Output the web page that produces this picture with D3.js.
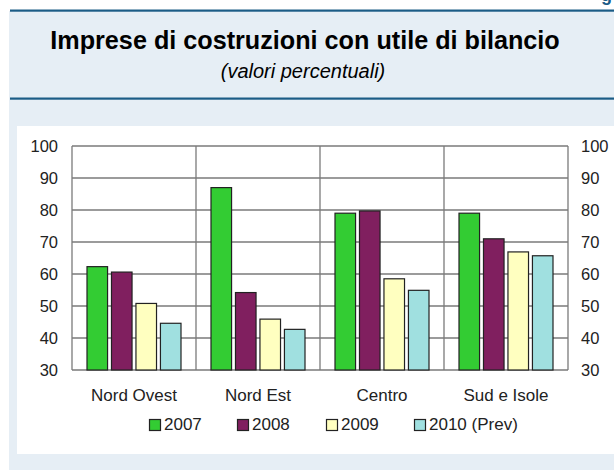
<!DOCTYPE html>
<html>
<head>
<meta charset="utf-8">
<script src="https://cdn.jsdelivr.net/npm/d3@7"></script>
<style>
  body { margin: 0; background: #fff; }
  text { font-family: "Liberation Sans", Arial, sans-serif; }
</style>
</head>
<body>
<div id="chart"></div>
<script>
var regions = ["Nord Ovest", "Nord Est", "Centro", "Sud e Isole"];
var seriesNames = ["2007", "2008", "2009", "2010 (Prev)"];
var values2007 = [62.3, 87.0, 79.0, 79.0];
var values2008 = [60.6, 54.2, 79.7, 71.0];
var values2009 = [50.8, 45.9, 58.5, 66.9];
var values2010 = [44.6, 42.7, 54.9, 65.7];
var yTicks = [30, 40, 50, 60, 70, 80, 90, 100];
var colors = ["#33cc33", "#801f5f", "#ffffc0", "#a0e0e0"];

var seriesValues = [values2007, values2008, values2009, values2010];

var width = 614, height = 470;
var svg = d3.select("#chart").append("svg")
	.attr("width", width)
	.attr("height", height);

// page background + header
svg.append("rect").attr("x", 9).attr("y", 11).attr("width", width - 9).attr("height", height - 11)
	.attr("fill", "#e6eef5");
svg.append("rect").attr("x", 10).attr("y", 9.5).attr("width", width - 10).attr("height", 2.2)
	.attr("fill", "#1b5c86");
svg.append("rect").attr("x", 10).attr("y", 97.5).attr("width", width - 10).attr("height", 2.2)
	.attr("fill", "#1b5c86");
svg.append("text").attr("x", 601).attr("y", 1)
	.attr("font-size", 18).attr("font-weight", "bold").attr("fill", "#1b5c86")
	.text("g");

svg.append("text").attr("x", 305).attr("y", 49)
	.attr("text-anchor", "middle").attr("font-size", 25.2).attr("font-weight", "bold").attr("fill", "#000")
	.text("Imprese di costruzioni con utile di bilancio");
svg.append("text").attr("x", 303).attr("y", 77.5)
	.attr("text-anchor", "middle").attr("font-size", 20).attr("font-style", "italic").attr("fill", "#000")
	.text("(valori percentuali)");

// white chart panel
svg.append("rect").attr("x", 17).attr("y", 126).attr("width", width - 17).attr("height", 328)
	.attr("fill", "#fff");

var plot = { left: 72, right: 568, top: 146, bottom: 370 };

var x0 = d3.scaleBand().domain(regions).range([plot.left, plot.right]).padding(0);
var x1 = d3.scaleBand().domain(d3.range(seriesNames.length))
	.range([15, x0.bandwidth() - 15]).paddingInner(0.16).paddingOuter(0);
var y = d3.scaleLinear().domain([30, 100]).range([plot.bottom, plot.top]);

var g = svg.append("g");

// horizontal grid
g.selectAll(".grid")
	.data(yTicks)
	.enter()
	.append("line")
	.attr("x1", plot.left).attr("x2", plot.right)
	.attr("y1", function(d) { return y(d); })
	.attr("y2", function(d) { return y(d); })
	.attr("stroke", "#7a7a7a").attr("stroke-width", 1.3);

// vertical separators between regions
g.selectAll(".sep")
	.data(regions)
	.enter()
	.append("line")
	.attr("x1", function(d) { return x0(d); })
	.attr("x2", function(d) { return x0(d); })
	.attr("y1", plot.top).attr("y2", plot.bottom)
	.attr("stroke", "#7a7a7a").attr("stroke-width", 1.3);
g.append("line")
	.attr("x1", plot.right).attr("x2", plot.right)
	.attr("y1", plot.top).attr("y2", plot.bottom)
	.attr("stroke", "#7a7a7a").attr("stroke-width", 1.3);

// bars
var groups = g.selectAll(".region")
	.data(regions)
	.enter()
	.append("g")
	.attr("transform", function(d) { return "translate(" + x0(d) + ",0)"; });

groups.selectAll("rect")
	.data(function(d, i) {
		return seriesValues.map(function(vals, s) { return { s: s, v: vals[i] }; });
	})
	.enter()
	.append("rect")
	.attr("x", function(d) { return x1(d.s); })
	.attr("y", function(d) { return y(d.v); })
	.attr("width", x1.bandwidth())
	.attr("height", function(d) { return y(30) - y(d.v); })
	.attr("fill", function(d) { return colors[d.s]; })
	.attr("stroke", "#222").attr("stroke-width", 1.2);

// axes
var leftAxis = d3.axisLeft(y).tickValues(yTicks).tickSize(0).tickPadding(14);
var rightAxis = d3.axisRight(y).tickValues(yTicks).tickSize(0).tickPadding(13);
var la = svg.append("g").attr("transform", "translate(" + plot.left + ",0)").call(leftAxis);
var ra = svg.append("g").attr("transform", "translate(" + plot.right + ",0)").call(rightAxis);
[la, ra].forEach(function(a) {
	a.select(".domain").remove();
	a.selectAll("text").attr("font-size", 16.5).attr("fill", "#222")
		.style("font-family", "'Liberation Sans', Arial, sans-serif");
});

var bottomAxis = d3.axisBottom(x0).tickSize(0).tickPadding(19);
var ba = svg.append("g").attr("transform", "translate(0," + plot.bottom + ")").call(bottomAxis);
ba.select(".domain").remove();
ba.selectAll("text").attr("font-size", 17).attr("fill", "#222")
	.style("font-family", "'Liberation Sans', Arial, sans-serif");

// legend
var legendX = [149, 237, 326, 414];
var legend = svg.selectAll(".legend")
	.data(seriesNames)
	.enter()
	.append("g")
	.attr("transform", function(d, i) { return "translate(" + legendX[i] + ",429.5)"; });
legend.append("rect")
	.attr("x", 0.5).attr("y", -10).attr("width", 11).attr("height", 11)
	.attr("fill", function(d, i) { return colors[i]; })
	.attr("stroke", "#222").attr("stroke-width", 1.2);
legend.append("text")
	.attr("x", 15).attr("y", 0)
	.attr("font-size", 17).attr("fill", "#222")
	.text(function(d) { return d; });
</script>
</body>
</html>
